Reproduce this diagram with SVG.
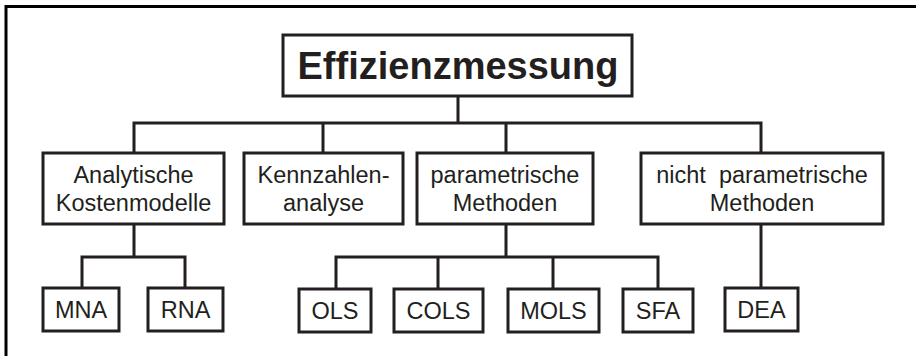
<svg xmlns="http://www.w3.org/2000/svg" width="916" height="356" viewBox="0 0 916 356">
<style>
.box{fill:#fff;stroke:#231f20;stroke-width:3}
.t{font-family:"Liberation Sans",Arial,sans-serif;font-size:23.5px;fill:#231f20;text-anchor:middle;white-space:pre}
.title{font-family:"Liberation Sans",Arial,sans-serif;font-size:38px;font-weight:bold;fill:#231f20;text-anchor:middle}
.c{fill:none;stroke:#231f20;stroke-width:3}
</style>
<rect width="916" height="356" fill="#fff"/>
<path d="M6,356 V6.5 H916" fill="none" stroke="#000" stroke-width="3"/>
<g id="connectors">
<path class="c" d="M458,96 V123 M134,153 V123 H761 V153 M323,123 V153 M506,123 V153"/>
<path class="c" d="M134,224 V257 M82,288 V257 H185 V288"/>
<path class="c" d="M506,224 V257 M336,289 V257 H658 V289 M438,257 V289 M553,257 V289"/>
<path class="c" d="M761,224 V288"/>
</g>
<g id="n-effizienz"><rect class="box" x="283" y="35" width="349" height="61" stroke-width="3.5"/><text class="title" x="458" y="79">Effizienzmessung</text></g>
<g id="n-analytisch"><rect class="box" x="43" y="153" width="181" height="71"/><text class="t" x="133.5" y="183">Analytische</text><text class="t" x="133.5" y="211">Kostenmodelle</text></g>
<g id="n-kennzahlen"><rect class="box" x="244" y="153" width="159" height="71"/><text class="t" x="323.5" y="183">Kennzahlen-</text><text class="t" x="323.5" y="211">analyse</text></g>
<g id="n-parametrisch"><rect class="box" x="417" y="153" width="176" height="71"/><text class="t" x="505" y="183">parametrische</text><text class="t" x="505" y="211">Methoden</text></g>
<g id="n-nichtparam"><rect class="box" x="641" y="153" width="242" height="71"/><text class="t" x="762" y="183">nicht  parametrische</text><text class="t" x="762" y="211">Methoden</text></g>
<g id="n-mna"><rect class="box" x="43" y="288" width="76" height="43"/><text class="t" x="81" y="318">MNA</text></g>
<g id="n-rna"><rect class="box" x="148" y="288" width="75" height="43"/><text class="t" x="185.5" y="318">RNA</text></g>
<g id="n-ols"><rect class="box" x="299" y="289" width="72" height="43"/><text class="t" x="335" y="319">OLS</text></g>
<g id="n-cols"><rect class="box" x="394" y="289" width="89" height="43"/><text class="t" x="438.5" y="319">COLS</text></g>
<g id="n-mols"><rect class="box" x="508" y="289" width="91" height="43"/><text class="t" x="553.5" y="319">MOLS</text></g>
<g id="n-sfa"><rect class="box" x="623" y="289" width="70" height="43"/><text class="t" x="658" y="319">SFA</text></g>
<g id="n-dea"><rect class="box" x="725" y="288" width="73" height="43"/><text class="t" x="761.5" y="318">DEA</text></g>
</svg>
